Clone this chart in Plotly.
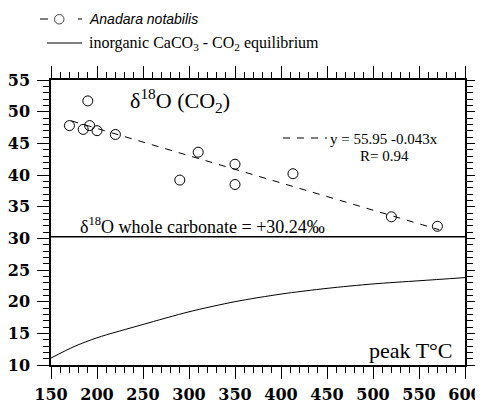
import plotly.graph_objects as go

# ---- data ----
anadara_T = [170, 185, 190, 192, 200, 220, 290, 310, 350, 350, 413, 520, 570]
anadara_d18O = [47.8, 47.2, 51.7, 47.8, 47.0, 46.4, 39.2, 43.6, 41.7, 38.5, 40.2, 33.4, 31.9]

eq_T = [150, 175, 200, 250, 300, 350, 400, 450, 500, 550, 600]
eq_d18O = [11.1, 12.9, 14.3, 16.4, 18.4, 20.0, 21.2, 22.1, 22.8, 23.3, 23.8]

fit_intercept = 55.95
fit_slope = -0.043
fit_T = [172, 572]
fit_d18O = [fit_intercept + fit_slope * t for t in fit_T]

whole_carbonate = 30.24

x_range = [150, 600]
y_range = [10, 55]
x_ticks = [150, 200, 250, 300, 350, 400, 450, 500, 550, 600]
y_ticks = [10, 15, 20, 25, 30, 35, 40, 45, 50, 55]

# ---- layout geometry (page pixels; the page body has an 8px margin) ----
OFF = 8
PAGE_W, PAGE_H = 483, 404
W, H = PAGE_W - OFF, PAGE_H - OFF
PL, PR, PT, PB = 51, 465, 80, 365          # plot area edges in page pixels
ML, MT = PL - OFF, PT - OFF
MR, MB = PAGE_W - PR, PAGE_H - PB
PW, PH = PR - PL, PB - PT


def px(xp):
    return (xp - PL) / PW


def py(yp):
    return (PB - yp) / PH


serif = "Liberation Serif, Times New Roman, serif"
tickfont = dict(family="DejaVu Serif", size=16, color="black", weight="bold")

fig = go.Figure()

fig.add_trace(go.Scatter(x=eq_T, y=eq_d18O, mode="lines",
                         line=dict(color="black", width=1, shape="spline", smoothing=0.8),
                         showlegend=False, hoverinfo="skip"))
fig.add_trace(go.Scatter(x=fit_T, y=fit_d18O, mode="lines",
                         line=dict(color="black", width=1, dash="7px,7px"),
                         showlegend=False, hoverinfo="skip"))
fig.add_trace(go.Scatter(x=x_range, y=[whole_carbonate, whole_carbonate], mode="lines",
                         line=dict(color="black", width=1.5),
                         showlegend=False, hoverinfo="skip"))
fig.add_trace(go.Scatter(x=anadara_T, y=anadara_d18O, mode="markers",
                         marker=dict(symbol="circle-open", size=10,
                                     color="black", line=dict(width=1)),
                         showlegend=False))

axis_common = dict(showline=True, linecolor="black", linewidth=1.5, mirror="allticks",
                   ticks="outside", ticklen=12, tickwidth=1, tickcolor="black",
                   showgrid=False, zeroline=False, tickfont=tickfont, automargin=False)

fig.update_xaxes(range=x_range, tickvals=x_ticks, ticklabelstandoff=2,
                 minor=dict(dtick=10, ticks="outside", ticklen=6, tickwidth=1,
                            tickcolor="black", showgrid=False),
                 **axis_common)
fig.update_yaxes(range=y_range, tickvals=y_ticks, ticklabelstandoff=4,
                 minor=dict(dtick=1, ticks="outside", ticklen=6, tickwidth=1,
                            tickcolor="black", showgrid=False),
                 **axis_common)

ann = []
ann.append(dict(x=px(128), y=py(100), xref="paper", yref="paper",
                text="δ<sup>18</sup>O (CO<sub>2</sub>)", showarrow=False,
                xanchor="left", yanchor="middle",
                font=dict(family=serif, size=22, color="black")))
ann.append(dict(x=px(78), y=py(225), xref="paper", yref="paper",
                text="δ<sup>18</sup>O whole carbonate = +30.24‰", showarrow=False,
                xanchor="left", yanchor="middle",
                font=dict(family=serif, size=18, color="black")))
ann.append(dict(x=px(384), y=py(139), xref="paper", yref="paper",
                text="y = 55.95 -0.043x", showarrow=False,
                xanchor="center", yanchor="middle",
                font=dict(family=serif, size=15, color="black")))
ann.append(dict(x=px(384), y=py(156), xref="paper", yref="paper",
                text="R= 0.94", showarrow=False,
                xanchor="center", yanchor="middle",
                font=dict(family=serif, size=15, color="black")))
ann.append(dict(x=px(455), y=py(350), xref="paper", yref="paper",
                text="peak T°C", showarrow=False,
                xanchor="right", yanchor="middle",
                font=dict(family=serif, size=22, color="black")))
# legend texts
ann.append(dict(x=px(87), y=py(19), xref="paper", yref="paper",
                text="<i>Anadara notabilis</i>", showarrow=False,
                xanchor="left", yanchor="middle",
                font=dict(family="Liberation Sans, Arial, sans-serif", size=14, color="black")))
ann.append(dict(x=px(87), y=py(43), xref="paper", yref="paper",
                text="inorganic CaCO<sub>3</sub> - CO<sub>2</sub> equilibrium", showarrow=False,
                xanchor="left", yanchor="middle",
                font=dict(family=serif, size=16, color="black")))

shapes = []
# legend keys
shapes.append(dict(type="line", xref="paper", yref="paper", x0=px(40), x1=px(48),
                   y0=py(19), y1=py(19), line=dict(color="black", width=1)))
shapes.append(dict(type="circle", xref="paper", yref="paper", x0=px(54.5), x1=px(64),
                   y0=py(14.5), y1=py(24), line=dict(color="#444", width=1)))
shapes.append(dict(type="line", xref="paper", yref="paper", x0=px(78), x1=px(82),
                   y0=py(19), y1=py(19), line=dict(color="black", width=1)))
shapes.append(dict(type="line", xref="paper", yref="paper", x0=px(47), x1=px(82),
                   y0=py(43), y1=py(43), line=dict(color="black", width=1)))
# fit key (dashed) before equation
shapes.append(dict(type="line", xref="paper", yref="paper", x0=px(283), x1=px(327),
                   y0=py(138), y1=py(138), line=dict(color="black", width=1, dash="7px,7px")))

fig.update_layout(width=W, height=H, margin=dict(l=ML, r=MR, t=MT, b=MB),
                  paper_bgcolor="white", plot_bgcolor="white",
                  showlegend=False, annotations=ann, shapes=shapes)

fig.write_html("out.html")
